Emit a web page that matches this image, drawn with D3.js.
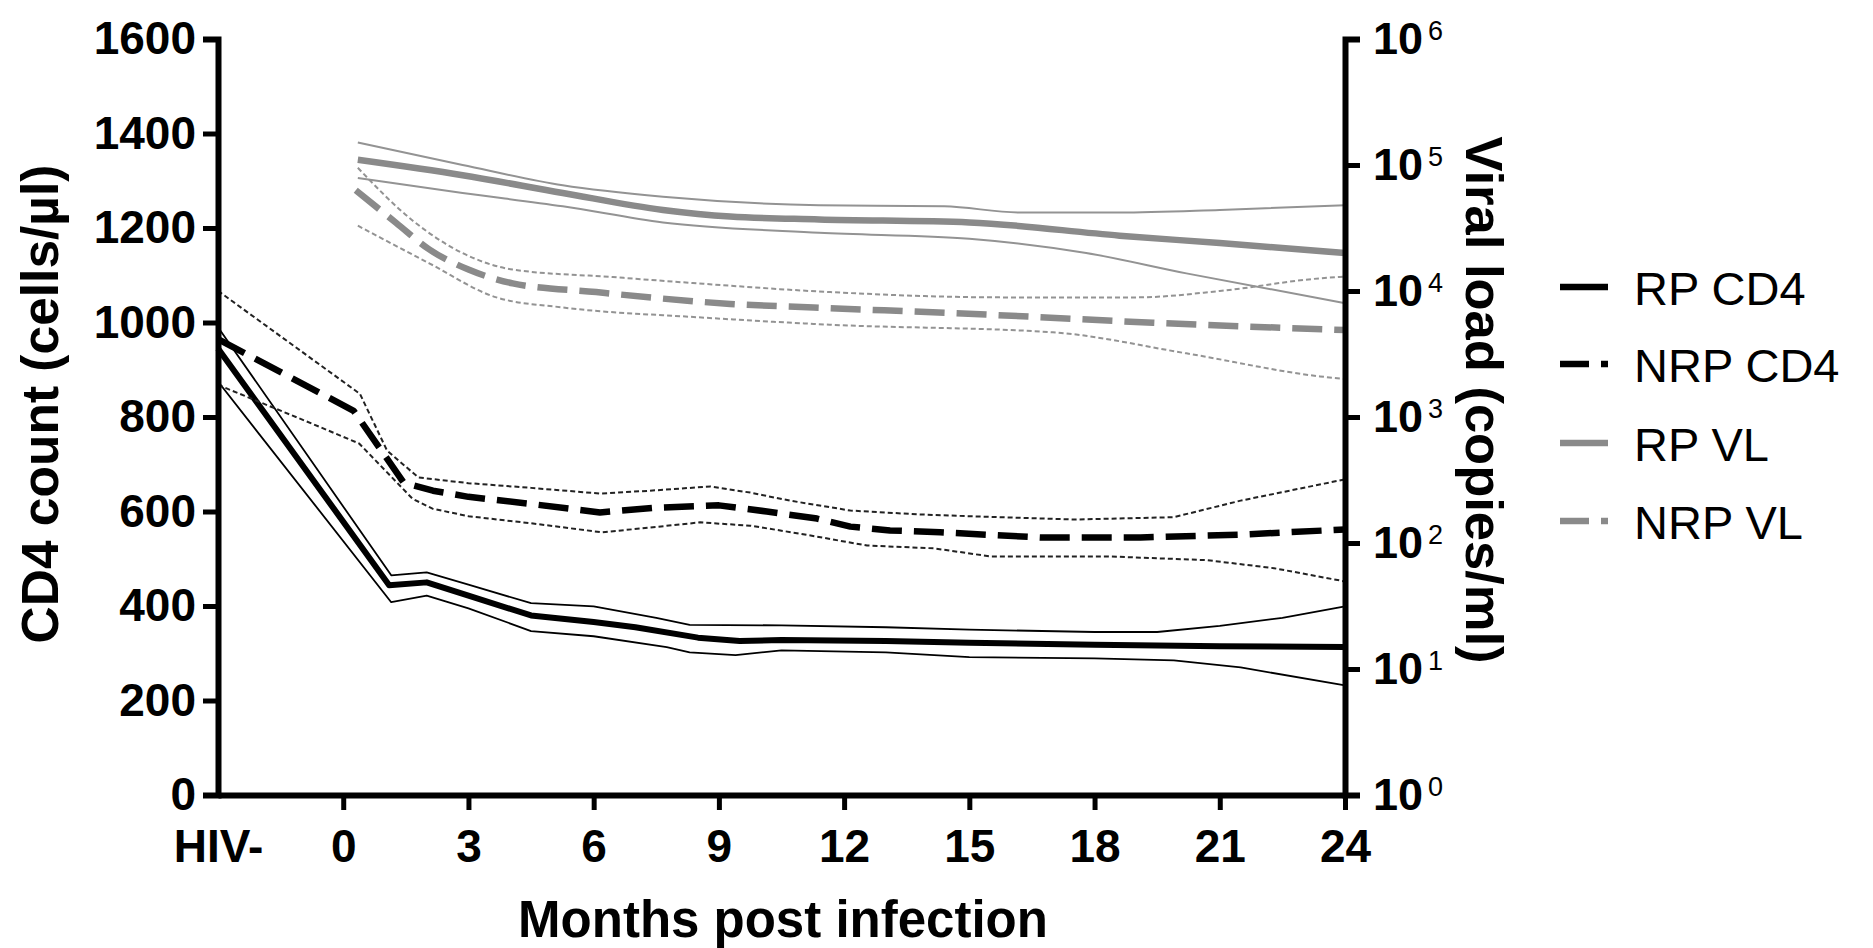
<!DOCTYPE html>
<html>
<head>
<meta charset="utf-8">
<script src="https://cdn.jsdelivr.net/npm/d3@7"></script>
<style>
  html, body { margin: 0; padding: 0; background: #fff; }
  svg { display: block; }
  text { font-family: "Liberation Sans", Arial, Helvetica, sans-serif; fill: #000; }
</style>
</head>
<body>
<svg id="chart" width="1873" height="948"></svg>
<script>
// ---- axis ticks ----
// The HIV- baseline sample is placed at -3 months on the time axis.
const xTickValues = [-3, 0, 3, 6, 9, 12, 15, 18, 21, 24];
const xTickLabels = ["HIV-", "0", "3", "6", "9", "12", "15", "18", "21", "24"];
const cd4TickValues = [0, 200, 400, 600, 800, 1000, 1200, 1400, 1600];
const vlTickValues = [1, 10, 100, 1000, 10000, 100000, 1000000];
const vlTickExponents = ["0", "1", "2", "3", "4", "5", "6"];

// ---- RP CD4 (cells/µl): mean and 95% band ----
const rpCd4MeanMonths = [-3, 1.1, 2.0, 3.0, 4.5, 6.0, 7.0, 8.5, 9.5, 10.5, 13, 15, 18, 21, 24];
const rpCd4Mean       = [945, 444, 450, 422, 380, 366, 355, 333, 326, 328, 326, 322, 318, 315, 313];
const rpCd4UpperMonths = [-3, 1.15, 2.0, 3.0, 4.5, 6.0, 7.5, 8.3, 10.5, 13, 15, 18, 19.5, 21, 22.5, 24];
const rpCd4Upper       = [990, 465, 471, 445, 406, 399, 375, 360, 359, 355, 350, 345, 345, 358, 375, 399];
const rpCd4LowerMonths = [-3, 1.15, 2.0, 3.0, 4.5, 6.0, 7.75, 8.3, 9.4, 10.5, 13, 15, 18, 19.9, 21.5, 24];
const rpCd4Lower       = [875, 408, 422, 395, 347, 336, 313, 302, 296, 306, 302, 292, 289, 285, 270, 232];

// ---- NRP CD4 (cells/µl): mean and 95% band ----
const nrpCd4MeanMonths = [-3, 0.25, 1.45, 2.15, 3.0, 4.5, 6.15, 7.5, 9.0, 10.15, 11.35, 12.15, 13.1, 14.3, 16.7, 19.1, 21.5, 24];
const nrpCd4Mean       = [965, 813, 661, 644, 631, 616, 598, 608, 613, 600, 585, 568, 560, 556, 545, 545, 551, 562];
const nrpCd4UpperMonths = [-3, 0.4, 1.05, 1.8, 3.0, 4.5, 6.15, 7.35, 8.8, 9.75, 10.7, 12.15, 13.75, 15, 17.5, 19.9, 21.5, 23.5, 24];
const nrpCd4Upper       = [1067, 849, 729, 672, 660, 650, 638, 644, 653, 640, 623, 602, 594, 590, 583, 588, 623, 659, 668];
const nrpCd4LowerMonths = [-3, -1.05, 0.38, 1.66, 2.14, 3.0, 4.5, 6.2, 7.35, 8.55, 9.75, 10.95, 12.55, 14.15, 15.5, 18.3, 20.7, 22.3, 24];
const nrpCd4Lower       = [868, 797, 744, 627, 606, 590, 575, 556, 566, 577, 570, 553, 528, 522, 505, 505, 497, 480, 452];

// ---- RP viral load (copies/ml): mean and 95% band ----
const rpVlMeanMonths = [0.35, 2.86, 5.26, 7.66, 9.27, 11.4, 15, 18.6, 21, 24];
const rpVlMean       = [110000, 83000, 60000, 44000, 39000, 37000, 35000, 27500, 24000, 20000];
const rpVlUpperMonths = [0.35, 2.86, 5.26, 7.66, 11.4, 14.4, 16.2, 18.6, 21, 24];
const rpVlUpper       = [151000, 100000, 69000, 56000, 48000, 47000, 42000, 42000, 44000, 48000];
const rpVlLowerMonths = [0.35, 2.86, 5.26, 7.66, 11.4, 15, 17.8, 20.2, 24];
const rpVlLower       = [79000, 60000, 47000, 35000, 29000, 26000, 20000, 13800, 8000];

// ---- NRP viral load (copies/ml): mean and 95% band ----
const nrpVlMeanMonths = [0.3, 1.27, 2.06, 3.0, 4.06, 6.06, 7.66, 9.27, 11.27, 15.4, 19.4, 24];
const nrpVlMean       = [63000, 34700, 21400, 14800, 11500, 9800, 8700, 7900, 7400, 6500, 5600, 4900];
const nrpVlUpperMonths = [0.35, 1.66, 2.86, 4.06, 6.46, 8.48, 11.67, 15.8, 19, 21, 23.4, 24];
const nrpVlUpper       = [95000, 36300, 20000, 14800, 12900, 11500, 9800, 8900, 8900, 10000, 12600, 13000];
const nrpVlLowerMonths = [0.35, 2.06, 3.67, 5.26, 8.46, 11.67, 17, 20.2, 23.4, 24];
const nrpVlLower       = [33000, 16600, 8900, 7400, 6200, 5400, 4700, 3200, 2100, 2000];

// ---- legend ----
const legendLabels = ["RP CD4", "NRP CD4", "RP VL", "NRP VL"];

// ---- layout ----
const svg = d3.select("#chart");
const plotLeft = 218, plotRight = 1345, plotTop = 39, plotBottom = 795;
const BLACK = "#000", GREY = "#8a8a8a", GREY_THIN = "#939393";

const x = d3.scaleLinear().domain([-3, 24]).range([plotLeft, plotRight]);
const yCd4 = d3.scaleLinear().domain([0, 1600]).range([plotBottom, plotTop]);
const yVl = d3.scaleLog().domain([1, 1e6]).range([plotBottom, plotTop]);

const zip = (ms, vs) => ms.map((m, i) => [m, vs[i]]);
// CD4 curves keep their sharp early kinks; viral load curves are smooth
const cd4Line = d3.line().x(d => x(d[0])).y(d => yCd4(d[1])).curve(d3.curveLinear);
const vlLine = d3.line().x(d => x(d[0])).y(d => yVl(d[1])).curve(d3.curveMonotoneX);

function draw(gen, pts, stroke, width, dash) {
  svg.append("path")
    .attr("d", gen(pts))
    .attr("fill", "none")
    .attr("stroke", stroke)
    .attr("stroke-width", width)
    .attr("stroke-linejoin", "round")
    .attr("stroke-dasharray", dash || null);
}

// viral load curves (grey)
draw(vlLine, zip(rpVlUpperMonths, rpVlUpper), GREY_THIN, 2);
draw(vlLine, zip(rpVlLowerMonths, rpVlLower), GREY_THIN, 2);
draw(vlLine, zip(rpVlMeanMonths, rpVlMean), GREY, 6.5);
draw(vlLine, zip(nrpVlUpperMonths, nrpVlUpper), GREY_THIN, 2, "5,3");
draw(vlLine, zip(nrpVlLowerMonths, nrpVlLower), GREY_THIN, 2, "5,3");
draw(vlLine, zip(nrpVlMeanMonths, nrpVlMean), GREY, 6.5, "30,12");

// CD4 curves (black)
draw(cd4Line, zip(rpCd4UpperMonths, rpCd4Upper), BLACK, 1.8);
draw(cd4Line, zip(rpCd4LowerMonths, rpCd4Lower), BLACK, 1.8);
draw(cd4Line, zip(rpCd4MeanMonths, rpCd4Mean), BLACK, 6);
draw(cd4Line, zip(nrpCd4UpperMonths, nrpCd4Upper), "#222", 2, "5,3");
draw(cd4Line, zip(nrpCd4LowerMonths, nrpCd4Lower), "#222", 2, "5,3");
draw(cd4Line, zip(nrpCd4MeanMonths, nrpCd4Mean), BLACK, 6.5, "30,12");

// ---- axes ----
function styleAxis(g) {
  g.select(".domain").attr("stroke", BLACK).attr("stroke-width", 6).attr("stroke-linejoin", "miter");
  g.selectAll(".tick line").attr("stroke", BLACK).attr("stroke-width", 5);
  g.selectAll(".tick text").attr("font-weight", "bold").attr("font-size", 46).attr("fill", BLACK);
}

const gLeft = svg.append("g").attr("transform", `translate(${plotLeft},0)`)
  .call(d3.axisLeft(yCd4).tickValues(cd4TickValues).tickSize(15).tickSizeOuter(15)
    .tickPadding(7).tickFormat(d3.format("d")));
styleAxis(gLeft);

const gBottom = svg.append("g").attr("transform", `translate(0,${plotBottom})`)
  .call(d3.axisBottom(x).tickValues(xTickValues).tickSize(15).tickSizeOuter(0)
    .tickPadding(19).tickFormat((d, i) => xTickLabels[i]));
styleAxis(gBottom);
gBottom.selectAll(".tick").filter(d => d === -3).select("line").remove();

const gRight = svg.append("g").attr("transform", `translate(${plotRight},0)`)
  .call(d3.axisRight(yVl).tickValues(vlTickValues).tickSize(15).tickSizeOuter(15)
    .tickPadding(13).tickFormat(() => "10"));
styleAxis(gRight);
gRight.selectAll(".tick text").attr("font-size", 45)
  .append("tspan")
  .attr("dx", 5).attr("dy", -13.5)
  .attr("font-size", 27).attr("font-weight", "normal")
  .text((d, i) => vlTickExponents[i]);

// ---- axis titles ----
svg.append("text")
  .attr("transform", "translate(58,404) rotate(-90)")
  .attr("text-anchor", "middle").attr("font-weight", "bold").attr("font-size", 51.5)
  .text("CD4 count (cells/µl)");

svg.append("text")
  .attr("transform", "translate(1466,400) rotate(90)")
  .attr("text-anchor", "middle").attr("font-weight", "bold").attr("font-size", 52.5)
  .text("Viral load (copies/ml)");

svg.append("text")
  .attr("x", 783).attr("y", 937)
  .attr("text-anchor", "middle").attr("font-weight", "bold").attr("font-size", 51)
  .text("Months post infection");

// ---- legend ----
const legendStyles = [
  { stroke: BLACK, dash: null },
  { stroke: BLACK, dash: "29,12,7,200" },
  { stroke: GREY, dash: null },
  { stroke: GREY, dash: "29,12,7,200" }
];
const legendBaselines = [305, 382, 461, 539];
const legend = svg.append("g");
legendLabels.forEach((label, i) => {
  const yb = legendBaselines[i];
  legend.append("line")
    .attr("x1", 1560).attr("x2", 1608)
    .attr("y1", yb - 18).attr("y2", yb - 18)
    .attr("stroke", legendStyles[i].stroke).attr("stroke-width", 6.5)
    .attr("stroke-dasharray", legendStyles[i].dash);
  legend.append("text")
    .attr("x", 1634).attr("y", yb)
    .attr("font-size", 47)
    .text(label);
});
</script>
</body>
</html>
